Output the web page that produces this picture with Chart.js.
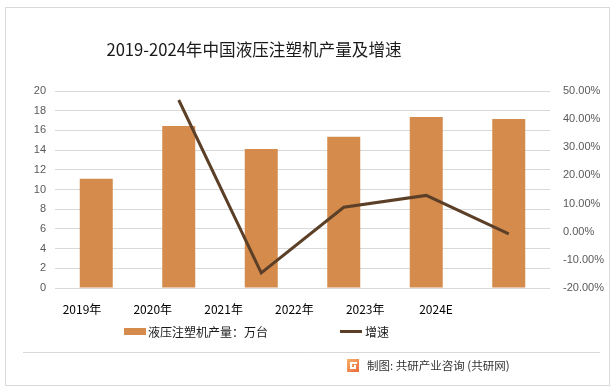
<!DOCTYPE html>
<html>
<head>
<meta charset="utf-8">
<script src="https://cdn.jsdelivr.net/npm/chart.js@4.4.1/dist/chart.umd.min.js"></script>
<style>
  html, body { margin: 0; padding: 0; background: #fff; }
  #wrap { position: relative; width: 615px; height: 392px; }
</style>
</head>
<body>
<div id="wrap"><canvas id="chart" width="615" height="392"></canvas></div>
<script>
const years = ['2019年', '2020年', '2021年', '2022年', '2023年', '2024E'];
const output = [11.1, 16.45, 14.1, 15.35, 17.35, 17.15];     // 万台
const growth = [null, 46.8, -14.6, 8.7, 12.9, -0.8];          // %

const barColor = '#d48b4c';
const lineColor = '#5c3f27';
const cjk = '"Noto Sans CJK SC", "Noto Sans", sans-serif';

// frame, title, legend and footer
const decor = {
  id: 'decor',
  beforeDraw(c) {
    const ctx = c.ctx;
    ctx.save();
    ctx.fillStyle = '#fff';
    ctx.fillRect(0, 0, c.width, c.height);
    ctx.strokeStyle = '#d9d9d9';
    ctx.lineWidth = 1;
    ctx.strokeRect(5.5, 7.5, 604, 378);
    ctx.restore();
  },
  afterDraw(c) {
    const ctx = c.ctx;
    ctx.save();
    ctx.textBaseline = 'middle';
    ctx.fillStyle = '#1a1a1a';
    ctx.font = '16.6px ' + cjk;
    ctx.textAlign = 'center';
    ctx.fillText('2019-2024年中国液压注塑机产量及增速', 254, 50);

    // legend
    ctx.textAlign = 'left';
    ctx.font = '12px ' + cjk;
    ctx.fillStyle = barColor;
    ctx.fillRect(124, 328, 22, 7);
    ctx.fillStyle = '#1a1a1a';
    ctx.fillText('液压注塑机产量：万台', 148, 332);
    ctx.strokeStyle = lineColor;
    ctx.lineWidth = 3;
    ctx.beginPath();
    ctx.moveTo(340, 331.5);
    ctx.lineTo(362, 331.5);
    ctx.stroke();
    ctx.fillText('增速', 365, 332);

    // footer
    ctx.strokeStyle = '#d9d9d9';
    ctx.lineWidth = 1;
    ctx.beginPath();
    ctx.moveTo(23, 352.5);
    ctx.lineTo(600, 352.5);
    ctx.stroke();
    const g = ctx.createLinearGradient(347, 359, 359, 372);
    g.addColorStop(0, '#f7b267');
    g.addColorStop(1, '#ee6a3c');
    ctx.fillStyle = g;
    ctx.fillRect(347, 359, 12, 13);
    ctx.fillStyle = '#fff';
    ctx.fillRect(350, 362, 7, 2);
    ctx.fillRect(350, 362, 2, 7);
    ctx.fillRect(350, 367, 6, 2);
    ctx.fillRect(354, 365, 2, 3);
    ctx.fillStyle = '#333';
    ctx.font = '11.5px ' + cjk;
    ctx.fillText('制图: 共研产业咨询 (共研网)', 367, 366);
    ctx.restore();
  }
};

new Chart(document.getElementById('chart'), {
  data: {
    labels: years,
    datasets: [
      {
        type: 'line',
        label: '增速',
        data: growth,
        yAxisID: 'y1',
        borderColor: lineColor,
        borderWidth: 3,
        pointRadius: 0,
        tension: 0,
        order: 0
      },
      {
        type: 'bar',
        label: '液压注塑机产量：万台',
        data: output,
        yAxisID: 'y',
        backgroundColor: barColor,
        categoryPercentage: 1,
        barPercentage: 0.4,
        order: 1
      }
    ]
  },
  options: {
    responsive: false,
    animation: false,
    layout: { padding: { left: 0, right: 0, top: 91, bottom: 74 } },
    plugins: { legend: { display: false }, title: { display: false }, tooltip: { enabled: false } },
    scales: {
      x: { type: 'category', display: false, offset: true },
      // category labels sit on their own evenly spaced track, as in the source
      xl: {
        type: 'linear',
        position: 'bottom',
        min: -0.381,
        max: 6.61,
        grid: { display: false, drawTicks: false },
        border: { display: false },
        afterBuildTicks: s => { s.ticks = years.map((_, i) => ({ value: i })); },
        afterFit: s => { s.height = 30; },
        ticks: {
          padding: 14,
          autoSkip: false,
          maxRotation: 0,
          color: '#000',
          font: { size: 12, family: cjk },
          callback: v => years[v]
        }
      },
      y: {
        position: 'left',
        min: 0,
        max: 20,
        afterFit: s => { s.width = 55; },
        grid: { color: '#d9d9d9', drawTicks: false },
        border: { display: false },
        ticks: { stepSize: 2, padding: 9, color: '#595959', font: { size: 11, family: '"Liberation Sans", sans-serif' } }
      },
      y1: {
        position: 'right',
        min: -20,
        max: 50,
        afterFit: s => { s.width = 65; },
        grid: { display: false, drawTicks: false },
        border: { display: false },
        ticks: {
          stepSize: 10,
          padding: 13,
          color: '#595959',
          font: { size: 11, family: '"Liberation Sans", sans-serif' },
          callback: v => v.toFixed(2) + '%'
        }
      }
    }
  },
  plugins: [decor]
});
</script>
</body>
</html>
